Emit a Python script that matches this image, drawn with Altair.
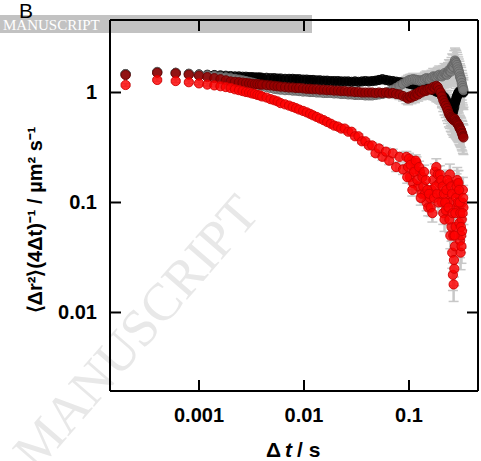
import altair as alt
import pandas as pd

# ---------------- data ----------------
dt = [0.0002, 0.0004, 0.0006, 0.0008, 0.0010, 0.0012, 0.0014, 0.0016, 0.0018, 0.0020,
      0.0022, 0.0024, 0.0026, 0.0028, 0.0030, 0.0032, 0.0034, 0.0036, 0.0038, 0.0040,
      0.0044, 0.0048, 0.0052, 0.0056, 0.0060, 0.0066, 0.0072, 0.0078, 0.0084, 0.0090,
      0.0098, 0.0106, 0.0114, 0.0122, 0.0132, 0.0142, 0.0154, 0.0166, 0.0180, 0.0194,
      0.0210, 0.0226, 0.0244, 0.0264, 0.0284, 0.0306, 0.0330, 0.0356, 0.0384, 0.0414,
      0.0446, 0.0480, 0.0518, 0.0558, 0.0602, 0.0648, 0.0700, 0.0754, 0.0812, 0.0876,
      0.0944, 0.0980, 0.1018, 0.1056, 0.1096, 0.1138, 0.1180, 0.1224, 0.1270, 0.1318,
      0.1366, 0.1418, 0.1470, 0.1524, 0.1580, 0.1640, 0.1700, 0.1760, 0.1820, 0.1880,
      0.1940, 0.2000, 0.2060, 0.2120, 0.2180, 0.2240, 0.2300, 0.2350, 0.2400, 0.2450,
      0.2500, 0.2540, 0.2580, 0.2620, 0.2660, 0.2700, 0.2740, 0.2780, 0.2820, 0.2860,
      0.2900, 0.2940, 0.2980, 0.3020, 0.3060, 0.3100, 0.3140, 0.3180, 0.3220, 0.3260,
      0.3300]

red = [1.17, 1.30, 1.27, 1.24, 1.21, 1.18, 1.16, 1.14, 1.12, 1.10,
       1.07, 1.05, 1.03, 1.01, 1.00, 0.98, 0.97, 0.95, 0.94, 0.92,
       0.90, 0.87, 0.85, 0.83, 0.80, 0.78, 0.76, 0.74, 0.72, 0.70,
       0.68, 0.66, 0.64, 0.62, 0.60, 0.58, 0.56, 0.54, 0.52, 0.50,
       0.49, 0.47, 0.47, 0.44, 0.44, 0.40, 0.40, 0.36, 0.36, 0.33,
       0.33, 0.28, 0.31, 0.26, 0.29, 0.24, 0.28, 0.21, 0.26, 0.20,
       0.26, 0.21, 0.17, 0.24, 0.15, 0.20, 0.23, 0.14, 0.19, 0.12,
       0.14, 0.12, 0.10, 0.09, 0.11, 0.13, 0.16, 0.19, 0.21, 0.18,
       0.15, 0.12, 0.10, 0.08, 0.07, 0.085, 0.10, 0.12, 0.15, 0.18,
       0.10, 0.06, 0.035, 0.022, 0.018, 0.025, 0.04, 0.06, 0.09, 0.12,
       0.15, 0.12, 0.09, 0.065, 0.045, 0.035, 0.05, 0.07, 0.10, 0.13,
       0.09]

# additional (interleaved) red points of the noisy tail
red_tail_t = [0.0962, 0.0999, 0.1037, 0.1076, 0.1117, 0.1159, 0.1202, 0.1247, 0.1294, 0.1342,
              0.1392, 0.1444, 0.1497, 0.1552, 0.1610, 0.1670, 0.1730, 0.1790, 0.1850, 0.1910,
              0.1970, 0.2030, 0.2090, 0.2150, 0.2210, 0.2270, 0.2325, 0.2375, 0.2425, 0.2475,
              0.2520, 0.2560, 0.2600, 0.2640, 0.2680, 0.2720, 0.2760, 0.2800, 0.2840, 0.2880,
              0.2920, 0.2960, 0.3000, 0.3040, 0.3080, 0.3120, 0.3160, 0.3200, 0.3240, 0.3280]
red_tail_v = [0.17, 0.25, 0.22, 0.13, 0.19, 0.24, 0.16, 0.21, 0.11, 0.17,
              0.19, 0.16, 0.13, 0.12, 0.09, 0.08, 0.11, 0.14, 0.12, 0.10,
              0.18, 0.16, 0.14, 0.12, 0.10, 0.13, 0.16, 0.09, 0.07, 0.05,
              0.14, 0.12, 0.08, 0.05, 0.03, 0.05, 0.08, 0.11, 0.14, 0.16,
              0.10, 0.15, 0.13, 0.10, 0.08, 0.06, 0.04, 0.055, 0.08, 0.11]

dark_red = [1.44, 1.51, 1.49, 1.45, 1.42, 1.38, 1.35, 1.32, 1.29, 1.26,
            1.25, 1.24, 1.23, 1.22, 1.21, 1.20, 1.19, 1.19, 1.18, 1.18,
            1.17, 1.16, 1.15, 1.14, 1.13, 1.12, 1.11, 1.11, 1.10, 1.10,
            1.09, 1.08, 1.08, 1.07, 1.07, 1.06, 1.06, 1.05, 1.05, 1.04,
            1.04, 1.03, 1.03, 1.02, 1.02, 1.01, 1.01, 1.00, 1.00, 1.00,
            1.00, 0.99, 1.00, 0.99, 1.00, 0.98, 0.99, 0.97, 0.96, 0.93,
            0.90, 0.88, 0.92, 0.90, 0.95, 0.93, 0.98, 0.96, 1.02, 1.00,
            1.05, 1.03, 1.04, 1.07, 1.08, 1.06, 1.12, 1.10, 1.15, 1.12,
            1.05, 1.00, 0.92, 0.85, 0.80, 0.76, 0.72, 0.68, 0.64, 0.62,
            0.60, 0.59, 0.58, 0.57, 0.56, 0.58, 0.57, 0.55, 0.54, 0.53,
            0.52, 0.51, 0.50, 0.48, 0.47, 0.46, 0.45, 0.43, 0.42, 0.40,
            0.39]

black = [1.47, 1.53, 1.51, 1.48, 1.46, 1.45, 1.44, 1.43, 1.42, 1.41,
         1.40, 1.40, 1.39, 1.39, 1.38, 1.38, 1.37, 1.37, 1.37, 1.36,
         1.36, 1.35, 1.35, 1.34, 1.34, 1.33, 1.33, 1.33, 1.32, 1.32,
         1.31, 1.31, 1.30, 1.30, 1.29, 1.29, 1.28, 1.28, 1.27, 1.27,
         1.27, 1.26, 1.26, 1.26, 1.25, 1.26, 1.25, 1.26, 1.27, 1.26,
         1.27, 1.28, 1.30, 1.32, 1.30, 1.28, 1.27, 1.25, 1.24, 1.23,
         1.22, 1.21, 1.20, 1.19, 1.18, 1.17, 1.16, 1.15, 1.14, 1.13,
         1.12, 1.11, 1.10, 1.09, 1.08, 1.07, 1.05, 1.04, 1.02, 1.01,
         1.00, 0.98, 0.95, 0.92, 0.90, 0.86, 0.82, 0.78, 0.75, 0.72,
         0.68, 0.66, 0.65, 0.66, 0.70, 0.74, 0.80, 0.84, 0.88, 0.92,
         0.95, 0.98, 1.00, 1.02, 1.02, 1.04, 1.05, 1.04, 1.03, 1.01,
         1.00]

gray = [1.47, 1.54, 1.51, 1.47, 1.45, 1.43, 1.41, 1.39, 1.37, 1.35,
        1.33, 1.31, 1.29, 1.27, 1.25, 1.23, 1.21, 1.19, 1.17, 1.15,
        1.12, 1.10, 1.08, 1.07, 1.06, 1.05, 1.05, 1.04, 1.04, 1.03,
        1.02, 1.02, 1.01, 1.01, 1.00, 1.00, 0.99, 0.99, 0.99, 0.98,
        0.98, 0.97, 0.97, 0.96, 0.96, 0.95, 0.95, 0.95, 0.94, 0.94,
        0.94, 0.95, 0.96, 0.97, 0.99, 1.02, 1.06, 1.10, 1.15, 1.20,
        1.25, 1.28, 1.30, 1.31, 1.32, 1.31, 1.30, 1.29, 1.28, 1.29,
        1.30, 1.33, 1.35, 1.33, 1.32, 1.36, 1.40, 1.39, 1.38, 1.42,
        1.45, 1.42, 1.40, 1.45, 1.50, 1.47, 1.45, 1.52, 1.60, 1.57,
        1.55, 1.65, 1.75, 1.72, 1.70, 1.85, 1.95, 1.90, 1.85, 1.78,
        1.70, 1.62, 1.55, 1.48, 1.40, 1.35, 1.30, 1.22, 1.15, 1.10,
        1.05]

rel_err = [0.03, 0.03, 0.03, 0.03, 0.03, 0.03, 0.03, 0.03, 0.03, 0.03,
           0.03, 0.03, 0.03, 0.03, 0.03, 0.03, 0.03, 0.03, 0.03, 0.03,
           0.04, 0.04, 0.04, 0.04, 0.04, 0.04, 0.04, 0.04, 0.04, 0.04,
           0.04, 0.04, 0.04, 0.04, 0.04, 0.04, 0.04, 0.04, 0.04, 0.04,
           0.05, 0.05, 0.05, 0.05, 0.05, 0.05, 0.05, 0.05, 0.05, 0.05,
           0.06, 0.06, 0.07, 0.07, 0.08, 0.08, 0.09, 0.09, 0.10, 0.10,
           0.12, 0.12, 0.12, 0.12, 0.13, 0.13, 0.13, 0.13, 0.14, 0.14,
           0.15, 0.15, 0.16, 0.16, 0.17, 0.17, 0.18, 0.18, 0.19, 0.19,
           0.20, 0.20, 0.21, 0.21, 0.22, 0.22, 0.23, 0.23, 0.24, 0.24,
           0.26, 0.26, 0.28, 0.28, 0.30, 0.30, 0.30, 0.30, 0.30, 0.30,
           0.30, 0.30, 0.30, 0.30, 0.30, 0.30, 0.30, 0.30, 0.30, 0.30,
           0.30]

x_ticks = [0.001, 0.01, 0.1]
x_tick_labels = ["0.001", "0.01", "0.1"]
y_ticks = [0.01, 0.1, 1]
y_tick_labels = ["0.01", "0.1", "1"]

series = [
    ("black", black, "#000000", "#000000"),
    ("gray", gray, "#808080", "#666666"),
    ("darkred", dark_red, "#990000", "#6e0000"),
    ("red", red, "#ff0000", "#d00000"),
]

# ---------------- chart ----------------
W, H = 368, 371
FONT = "Liberation Sans"
xs = alt.Scale(type="log", domain=[1.4203e-4, 0.4541], nice=False)
ys = alt.Scale(type="log", domain=[0.001933, 4.561], nice=False)

rows = []
for name, vals, fc, sc in series:
    for t, v, e in zip(dt, vals, rel_err):
        rows.append({"series": name, "t": t, "v": v, "lo": v * (1 - e), "hi": v * (1 + e)})
for t, v, e in zip(red_tail_t, red_tail_v, rel_err[60:110]):
    rows.append({"series": "red", "t": t, "v": v, "lo": v * (1 - e), "hi": v * (1 + e)})
df = pd.DataFrame(rows)

one = pd.DataFrame({"k": [0]})
X = lambda f: alt.X(f, scale=xs, axis=None)
Y = lambda f: alt.Y(f, scale=ys, axis=None)

watermark = alt.Chart(one).mark_text(
    text="MANUSCRIPT", font="Liberation Serif", fontSize=53, angle=311,
    color="#e8e8e8", align="center", baseline="middle"
).encode(x=alt.value(27), y=alt.value(313))

ERRC = "#c8c8c8"
err = alt.Chart(df).mark_rule(color=ERRC, strokeWidth=2.5).encode(
    x=X("t:Q"), y=Y("lo:Q"), y2="hi:Q")
cap_lo = alt.Chart(df).mark_rule(color=ERRC, strokeWidth=1.5, xOffset=-5, x2Offset=5).encode(
    x=X("t:Q"), x2="t:Q", y=Y("lo:Q"))
cap_hi = alt.Chart(df).mark_rule(color=ERRC, strokeWidth=1.5, xOffset=-5, x2Offset=5).encode(
    x=X("t:Q"), x2="t:Q", y=Y("hi:Q"))

point_layers = []
for name, vals, fc, sc in series:
    point_layers.append(
        alt.Chart(df[df["series"] == name]).mark_circle(
            size=85, color=fc, fillOpacity=0.82, stroke=sc, strokeWidth=1, strokeOpacity=0.9
        ).encode(x=X("t:Q"), y=Y("v:Q"))
    )

bar = alt.Chart(one).mark_rect(color="#bdbdbd", opacity=0.92).encode(
    x=alt.value(-110), x2=alt.value(202), y=alt.value(-5), y2=alt.value(13))
bar_text = alt.Chart(one).mark_text(
    text="MANUSCRIPT", font="Liberation Serif", fontSize=15, color="white",
    align="left", baseline="alphabetic").encode(x=alt.value(-107), y=alt.value(10))

frame = [
    alt.Chart(one).mark_rule(color="black", strokeWidth=2).encode(x=alt.value(0), x2=alt.value(W), y=alt.value(0)),
    alt.Chart(one).mark_rule(color="black", strokeWidth=2).encode(x=alt.value(0), x2=alt.value(W), y=alt.value(H)),
    alt.Chart(one).mark_rule(color="black", strokeWidth=2).encode(x=alt.value(0), y=alt.value(0), y2=alt.value(H)),
    alt.Chart(one).mark_rule(color="black", strokeWidth=2).encode(x=alt.value(W), y=alt.value(0), y2=alt.value(H)),
]

xt = pd.DataFrame({"tick": x_ticks, "label": x_tick_labels})
yt = pd.DataFrame({"tick": y_ticks, "label": y_tick_labels})
ticks = [
    alt.Chart(xt).mark_rule(color="black", strokeWidth=2).encode(
        x=X("tick:Q"), y=alt.value(H), y2=alt.value(H - 11)),
    alt.Chart(xt).mark_rule(color="black", strokeWidth=2).encode(
        x=X("tick:Q"), y=alt.value(0), y2=alt.value(11)),
    alt.Chart(yt).mark_rule(color="black", strokeWidth=2).encode(
        y=Y("tick:Q"), x=alt.value(0), x2=alt.value(11)),
    alt.Chart(yt).mark_rule(color="black", strokeWidth=2).encode(
        y=Y("tick:Q"), x=alt.value(W), x2=alt.value(W - 11)),
]

tick_labels = [
    alt.Chart(xt).mark_text(font=FONT, fontSize=20, fontWeight="bold", color="black",
                            align="center", baseline="alphabetic").encode(
        x=X("tick:Q"), y=alt.value(402), text="label:N"),
    alt.Chart(yt).mark_text(font=FONT, fontSize=20, fontWeight="bold", color="black",
                            align="right", baseline="alphabetic", dy=7).encode(
        y=Y("tick:Q"), x=alt.value(-13), text="label:N"),
]

texts = [
    alt.Chart(one).mark_text(text="B", font=FONT, fontSize=21, color="black",
                             align="left", baseline="alphabetic").encode(x=alt.value(-91), y=alt.value(-2)),
    alt.Chart(one).mark_text(text="Δ", font=FONT, fontSize=21, fontWeight="bold", color="black",
                             align="left", baseline="alphabetic").encode(x=alt.value(156), y=alt.value(437)),
    alt.Chart(one).mark_text(text="t", font=FONT, fontSize=21, fontWeight="bold", fontStyle="italic",
                             color="black", align="left", baseline="alphabetic").encode(x=alt.value(175), y=alt.value(437)),
    alt.Chart(one).mark_text(text="/ s", font=FONT, fontSize=21, fontWeight="bold", color="black",
                             align="left", baseline="alphabetic").encode(x=alt.value(187), y=alt.value(437)),
    alt.Chart(one).mark_text(text="⟨Δr²⟩(4Δt)⁻¹ / µm² s⁻¹", font=FONT, fontSize=20, fontWeight="bold",
                             color="black", angle=270, align="center", baseline="alphabetic").encode(
        x=alt.value(-68), y=alt.value(200)),
]

chart = alt.layer(
    watermark, err, cap_lo, cap_hi, *point_layers, bar, *frame, *ticks, bar_text,
    *tick_labels, *texts
).properties(
    width=W, height=H,
    padding={"left": 110, "top": 20, "right": 3, "bottom": 70},
    autosize=alt.AutoSizeParams(type="none"),
).configure_view(stroke=None)

chart.save("out.html", embed_options={"renderer": "svg", "actions": False})
